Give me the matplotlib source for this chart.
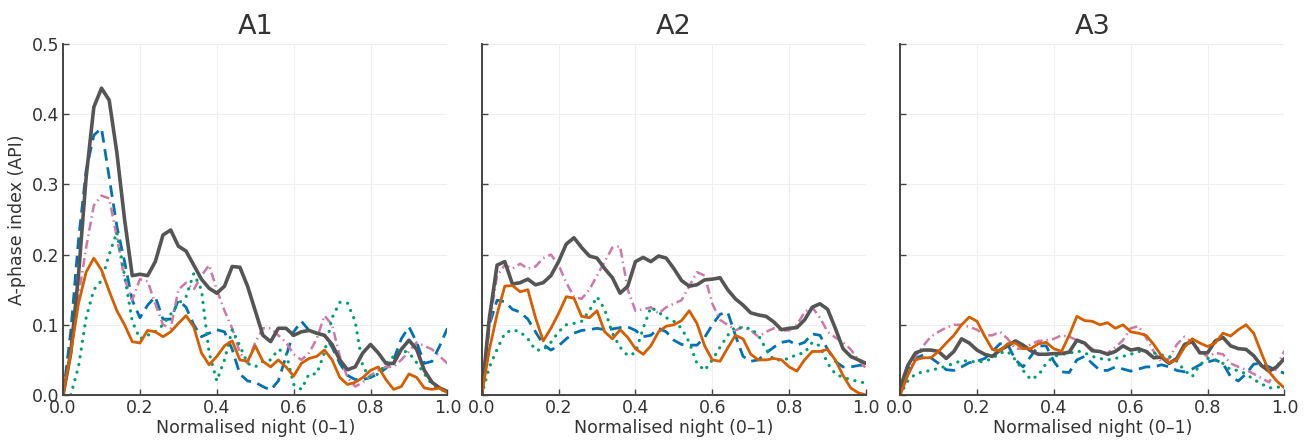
import numpy as np
import matplotlib
matplotlib.use("Agg")
from matplotlib import pyplot as plt

# Normalised night positions shared by every series
night = np.round(np.arange(0, 1.0001, 0.02), 2)

# A1 panel
a1_gray = [0.0, 0.06, 0.17, 0.31, 0.41, 0.437, 0.42, 0.345, 0.25, 0.17,
           0.172, 0.17, 0.19, 0.228, 0.235, 0.212, 0.205, 0.185, 0.165, 0.152,
           0.145, 0.155, 0.183, 0.182, 0.155, 0.12, 0.085, 0.076, 0.095, 0.095,
           0.085, 0.09, 0.092, 0.088, 0.085, 0.072, 0.05, 0.036, 0.04, 0.06,
           0.072, 0.06, 0.045, 0.045, 0.065, 0.078, 0.065, 0.035, 0.018, 0.01, 0.005]
a1_blue = [0.0, 0.09, 0.22, 0.32, 0.37, 0.38, 0.31, 0.24, 0.19, 0.135,
           0.11, 0.128, 0.14, 0.108, 0.108, 0.135, 0.125, 0.1, 0.083, 0.088,
           0.093, 0.09, 0.065, 0.03, 0.02, 0.018, 0.012, 0.007, 0.02, 0.055,
           0.09, 0.105, 0.092, 0.088, 0.085, 0.068, 0.045, 0.028, 0.022, 0.022,
           0.025, 0.03, 0.038, 0.05, 0.08, 0.097, 0.075, 0.045, 0.048, 0.07, 0.095]
a1_pink = [0.0, 0.06, 0.14, 0.21, 0.27, 0.284, 0.28, 0.225, 0.165, 0.135,
           0.165, 0.162, 0.13, 0.1, 0.095, 0.15, 0.16, 0.15, 0.17, 0.185,
           0.15, 0.12, 0.095, 0.06, 0.045, 0.075, 0.095, 0.095, 0.085, 0.075,
           0.058, 0.05, 0.06, 0.08, 0.113, 0.1, 0.055, 0.025, 0.012, 0.018,
           0.028, 0.035, 0.04, 0.04, 0.05, 0.062, 0.075, 0.07, 0.065, 0.055, 0.045]
a1_green = [0.0, 0.0, 0.04, 0.11, 0.15, 0.163, 0.2, 0.232, 0.17, 0.105,
            0.08, 0.085, 0.09, 0.1, 0.115, 0.13, 0.14, 0.173, 0.15, 0.06,
            0.02, 0.05, 0.093, 0.07, 0.045, 0.04, 0.048, 0.05, 0.065, 0.06,
            0.015, 0.008, 0.03, 0.03, 0.06, 0.11, 0.132, 0.131, 0.105, 0.04,
            0.025, 0.03, 0.045, 0.055, 0.064, 0.06, 0.046, 0.03, 0.015, 0.008, 0.005]
a1_orange = [0.0, 0.06, 0.13, 0.175, 0.195, 0.178, 0.148, 0.12, 0.1, 0.076,
             0.074, 0.092, 0.09, 0.083, 0.09, 0.102, 0.113, 0.097, 0.06, 0.043,
             0.055, 0.07, 0.077, 0.05, 0.048, 0.07, 0.048, 0.04, 0.05, 0.04,
             0.027, 0.045, 0.052, 0.055, 0.064, 0.05, 0.025, 0.015, 0.018, 0.025,
             0.035, 0.04, 0.022, 0.008, 0.012, 0.03, 0.025, 0.01, 0.008, 0.01, 0.003]

# A2 panel
a2_gray = [0.0, 0.11, 0.185, 0.19, 0.158, 0.16, 0.165, 0.157, 0.16, 0.17,
           0.19, 0.215, 0.224, 0.21, 0.198, 0.195, 0.18, 0.167, 0.145, 0.155,
           0.19, 0.196, 0.19, 0.198, 0.195, 0.18, 0.163, 0.155, 0.157, 0.164,
           0.165, 0.167, 0.15, 0.137, 0.128, 0.117, 0.114, 0.112, 0.104, 0.093,
           0.095, 0.096, 0.107, 0.125, 0.13, 0.122, 0.095, 0.066, 0.055, 0.05, 0.045]
a2_blue = [0.0, 0.1, 0.135, 0.133, 0.122, 0.118, 0.108, 0.09, 0.072, 0.064,
           0.07, 0.08, 0.088, 0.092, 0.093, 0.095, 0.093, 0.094, 0.096, 0.097,
           0.092, 0.083, 0.085, 0.095, 0.09, 0.078, 0.072, 0.071, 0.071, 0.082,
           0.1, 0.115, 0.118, 0.085, 0.055, 0.048, 0.05, 0.06, 0.068, 0.075,
           0.077, 0.071, 0.075, 0.087, 0.085, 0.065, 0.048, 0.04, 0.04, 0.042, 0.043]
a2_pink = [0.0, 0.1, 0.17, 0.185, 0.18, 0.187, 0.18, 0.183, 0.195, 0.2,
           0.185, 0.16, 0.14, 0.137, 0.15, 0.17, 0.19, 0.21, 0.212, 0.15,
           0.12, 0.122, 0.125, 0.116, 0.125, 0.13, 0.135, 0.155, 0.175, 0.17,
           0.13, 0.107, 0.1, 0.092, 0.097, 0.092, 0.083, 0.09, 0.095, 0.092,
           0.092, 0.1, 0.118, 0.125, 0.11, 0.09, 0.082, 0.075, 0.065, 0.05, 0.038]
a2_green = [0.0, 0.04, 0.065, 0.088, 0.093, 0.09, 0.08, 0.064, 0.064, 0.075,
            0.09, 0.1, 0.102, 0.105, 0.12, 0.14, 0.122, 0.088, 0.068, 0.056,
            0.06, 0.095, 0.125, 0.118, 0.11, 0.105, 0.095, 0.075, 0.045, 0.035,
            0.05, 0.068, 0.085, 0.097, 0.095, 0.095, 0.085, 0.065, 0.05, 0.05,
            0.052, 0.058, 0.06, 0.075, 0.07, 0.045, 0.03, 0.025, 0.022, 0.019, 0.017]
a2_orange = [0.0, 0.065, 0.115, 0.155, 0.156, 0.147, 0.15, 0.11, 0.077, 0.095,
             0.116, 0.14, 0.138, 0.112, 0.11, 0.12, 0.09, 0.08, 0.093, 0.082,
             0.066, 0.058, 0.07, 0.09, 0.098, 0.1, 0.106, 0.12, 0.102, 0.07,
             0.05, 0.048, 0.067, 0.085, 0.08, 0.058, 0.05, 0.05, 0.052, 0.05,
             0.04, 0.034, 0.05, 0.062, 0.062, 0.065, 0.05, 0.028, 0.01, 0.003, 0.0]

# A3 panel
a3_gray = [0.01, 0.042, 0.06, 0.064, 0.064, 0.062, 0.052, 0.062, 0.08, 0.074,
           0.064, 0.058, 0.055, 0.064, 0.07, 0.077, 0.071, 0.063, 0.058, 0.058,
           0.059, 0.059, 0.061, 0.078, 0.074, 0.063, 0.062, 0.058, 0.062, 0.07,
           0.064, 0.066, 0.062, 0.053, 0.054, 0.045, 0.052, 0.072, 0.076, 0.06,
           0.06, 0.077, 0.082, 0.07, 0.066, 0.065, 0.056, 0.042, 0.034, 0.04, 0.052]
a3_blue = [0.0, 0.035, 0.052, 0.057, 0.053, 0.045, 0.036, 0.035, 0.04, 0.046,
           0.048, 0.052, 0.062, 0.073, 0.072, 0.05, 0.04, 0.055, 0.07, 0.07,
           0.048, 0.033, 0.032, 0.05, 0.055, 0.045, 0.035, 0.035, 0.04, 0.037,
           0.034, 0.037, 0.04, 0.04, 0.043, 0.04, 0.035, 0.033, 0.037, 0.043,
           0.047, 0.05, 0.045, 0.026, 0.02, 0.03, 0.044, 0.045, 0.04, 0.035, 0.031]
a3_pink = [0.0, 0.03, 0.055, 0.07, 0.083, 0.09, 0.096, 0.1, 0.1, 0.097,
           0.093, 0.085, 0.085, 0.09, 0.08, 0.066, 0.066, 0.072, 0.077, 0.078,
           0.08, 0.085, 0.083, 0.078, 0.072, 0.066, 0.06, 0.06, 0.068, 0.078,
           0.095, 0.098, 0.082, 0.062, 0.047, 0.052, 0.072, 0.083, 0.075, 0.064,
           0.054, 0.06, 0.058, 0.045, 0.04, 0.036, 0.03, 0.024, 0.018, 0.04, 0.063]
a3_green = [0.0, 0.02, 0.03, 0.033, 0.035, 0.038, 0.041, 0.045, 0.049, 0.048,
            0.047, 0.048, 0.052, 0.06, 0.062, 0.05, 0.035, 0.022, 0.028, 0.045,
            0.055, 0.058, 0.059, 0.063, 0.06, 0.055, 0.052, 0.05, 0.052, 0.055,
            0.058, 0.062, 0.062, 0.06, 0.057, 0.055, 0.048, 0.035, 0.026, 0.043,
            0.052, 0.05, 0.045, 0.036, 0.035, 0.03, 0.022, 0.016, 0.01, 0.011, 0.012]
a3_orange = [0.0, 0.028, 0.05, 0.053, 0.053, 0.062, 0.074, 0.085, 0.1, 0.111,
             0.105, 0.084, 0.065, 0.063, 0.073, 0.074, 0.066, 0.066, 0.073, 0.075,
             0.066, 0.062, 0.085, 0.112, 0.106, 0.105, 0.1, 0.103, 0.095, 0.1,
             0.09, 0.088, 0.085, 0.072, 0.056, 0.046, 0.05, 0.068, 0.08, 0.074,
             0.069, 0.074, 0.088, 0.084, 0.093, 0.1, 0.088, 0.06, 0.033, 0.02, 0.01]

panels = ['A1', 'A2', 'A3']
series = [
    [a1_blue, a1_pink, a1_green, a1_gray, a1_orange],
    [a2_blue, a2_pink, a2_green, a2_gray, a2_orange],
    [a3_blue, a3_pink, a3_green, a3_gray, a3_orange],
]

# line styles: blue dashed, pink dash-dot, green dotted, gray thick, orange solid
styles = [
    dict(color='#0072B2', lw=2.0, dashes=(4.2, 2.4)),
    dict(color='#CC79A7', lw=1.8, dashes=(3.6, 1.6, 0.6, 1.6)),
    dict(color='#009E73', lw=2.3, dashes=(0.05, 2.4), dash_capstyle='round'),
    dict(color='#555555', lw=2.6, solid_capstyle='round', solid_joinstyle='round'),
    dict(color='#D55E00', lw=2.0, solid_capstyle='round', solid_joinstyle='round'),
]

fig = plt.figure(figsize=(13.14, 4.4), dpi=100)
lefts = [0.048, 0.3666, 0.685]
width = 0.2925
axes = []
for i, name in enumerate(panels):
    ax = fig.add_axes([lefts[i], 0.1023, width, 0.7977], sharey=axes[0] if axes else None)
    axes.append(ax)
    ax.grid(True, color='#efefef', lw=0.8)
    ax.set_axisbelow(True)
    for vals, st in zip(series[i], styles):
        ax.plot(night, vals, **st)
    ax.set_xlim(0, 1)
    ax.set_ylim(0, 0.5)
    ax.set_xticks([0.0, 0.2, 0.4, 0.6, 0.8, 1.0])
    ax.set_yticks([0.0, 0.1, 0.2, 0.3, 0.4, 0.5])
    ax.tick_params(direction='in', length=4, width=1, colors='#444444',
                   labelsize=12.5, labelcolor='#333333', pad=3)
    for s in ['top', 'right']:
        ax.spines[s].set_visible(False)
    for s in ['left', 'bottom']:
        ax.spines[s].set_color('#444444')
        ax.spines[s].set_linewidth(1.4)
    ax.set_title(name, fontsize=19.5, color='#333333', pad=7)
    ax.set_xlabel('Normalised night (0–1)', fontsize=12.5, color='#333333', labelpad=1)
    if i == 0:
        ax.set_ylabel('A-phase index (API)', fontsize=12.5, color='#333333', labelpad=4)
        ax.yaxis.set_major_formatter(matplotlib.ticker.FormatStrFormatter('%.1f'))
    else:
        ax.tick_params(labelleft=False)
    ax.xaxis.set_major_formatter(matplotlib.ticker.FormatStrFormatter('%.1f'))

fig.savefig('out.png', dpi=100)
